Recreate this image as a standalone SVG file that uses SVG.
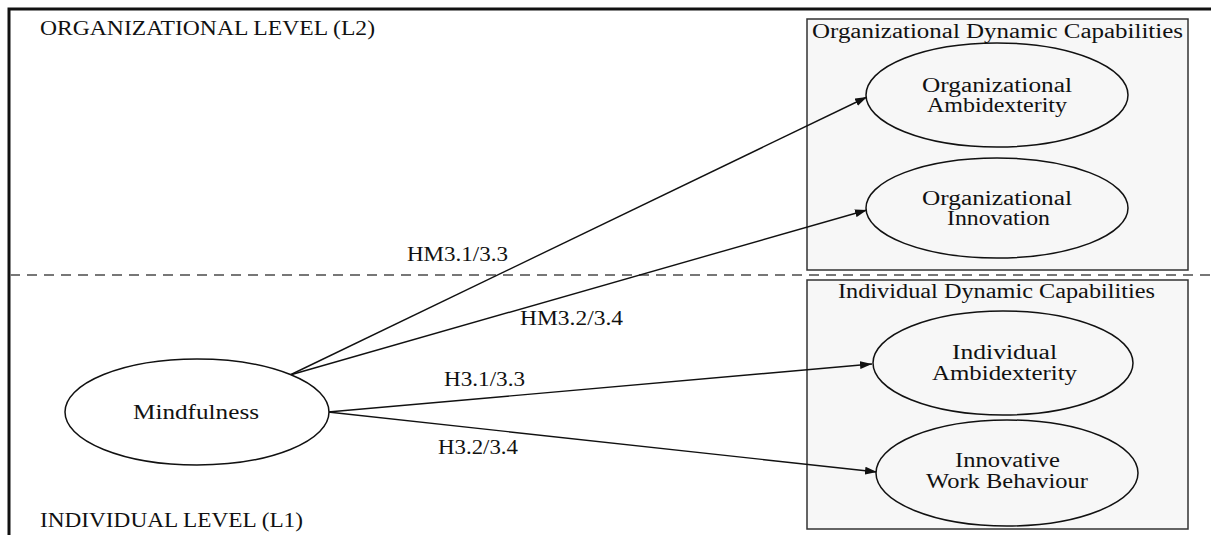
<svg xmlns="http://www.w3.org/2000/svg" width="1211" height="535" viewBox="0 0 1211 535">
<style>
  text { font-family: "Liberation Serif", "DejaVu Serif", serif; font-size: 20px; fill: #111; }
  .box { fill: #f7f7f7; stroke: #333; stroke-width: 1.5; }
  .node { fill: #f7f7f7; stroke: #111; stroke-width: 1.5; }
  .conn { stroke: #111; stroke-width: 1.4; fill: none; marker-end: url(#arrow); }
</style>
<defs>
  <marker id="arrow" viewBox="0 0 12 8" refX="12" refY="4" markerWidth="12" markerHeight="8" markerUnits="userSpaceOnUse" orient="auto">
    <path d="M0,0 L12,4 L0,8 Z" fill="#111"/>
  </marker>
</defs>
<rect width="1211" height="535" fill="#fff"/>
<g id="frame">
  <path d="M9,535 V9 H1211" fill="none" stroke="#111" stroke-width="3"/>
  <line x1="10" y1="275" x2="1211" y2="275" stroke="#777" stroke-width="2" stroke-dasharray="10,7"/>
  <text x="40" y="35" textLength="335" lengthAdjust="spacingAndGlyphs">ORGANIZATIONAL LEVEL (L2)</text>
  <text x="40" y="527" textLength="263" lengthAdjust="spacingAndGlyphs">INDIVIDUAL LEVEL (L1)</text>
</g>
<g id="org-box">
  <rect class="box" x="807" y="19" width="381" height="251"/>
  <text x="812" y="38" textLength="371" lengthAdjust="spacingAndGlyphs">Organizational Dynamic Capabilities</text>
</g>
<g id="ind-box">
  <rect class="box" x="807" y="280" width="381" height="249"/>
  <text x="838" y="298" textLength="317" lengthAdjust="spacingAndGlyphs">Individual Dynamic Capabilities</text>
</g>
<g id="connectors">
  <line class="conn" x1="290" y1="375" x2="867" y2="97"/>
  <line class="conn" x1="290" y1="375" x2="867" y2="210"/>
  <line class="conn" x1="328" y1="412" x2="872" y2="364"/>
  <line class="conn" x1="328" y1="412" x2="877" y2="472"/>
  <text x="407" y="261" textLength="101" lengthAdjust="spacingAndGlyphs">HM3.1/3.3</text>
  <text x="520" y="325" textLength="103" lengthAdjust="spacingAndGlyphs">HM3.2/3.4</text>
  <text x="444" y="386" textLength="81" lengthAdjust="spacingAndGlyphs">H3.1/3.3</text>
  <text x="438" y="454" textLength="80" lengthAdjust="spacingAndGlyphs">H3.2/3.4</text>
</g>
<g id="mindfulness">
  <ellipse class="node" cx="197" cy="412" rx="132" ry="53" style="fill:#fff"/>
  <text x="133" y="419" textLength="126" lengthAdjust="spacingAndGlyphs">Mindfulness</text>
</g>
<g id="org-ambidexterity">
  <ellipse class="node" cx="997" cy="95" rx="131" ry="52"/>
  <text x="922" y="92" textLength="150" lengthAdjust="spacingAndGlyphs">Organizational</text>
  <text x="927" y="112" textLength="140" lengthAdjust="spacingAndGlyphs">Ambidexterity</text>
</g>
<g id="org-innovation">
  <ellipse class="node" cx="997" cy="208" rx="131" ry="50"/>
  <text x="922" y="205" textLength="150" lengthAdjust="spacingAndGlyphs">Organizational</text>
  <text x="947" y="225" textLength="103" lengthAdjust="spacingAndGlyphs">Innovation</text>
</g>
<g id="ind-ambidexterity">
  <ellipse class="node" cx="1003" cy="363" rx="130" ry="52"/>
  <text x="952" y="359" textLength="105" lengthAdjust="spacingAndGlyphs">Individual</text>
  <text x="932" y="380" textLength="145" lengthAdjust="spacingAndGlyphs">Ambidexterity</text>
</g>
<g id="innovative-work-behaviour">
  <ellipse class="node" cx="1007" cy="473" rx="131" ry="53"/>
  <text x="955" y="467" textLength="105" lengthAdjust="spacingAndGlyphs">Innovative</text>
  <text x="926" y="488" textLength="162" lengthAdjust="spacingAndGlyphs">Work Behaviour</text>
</g>
</svg>
